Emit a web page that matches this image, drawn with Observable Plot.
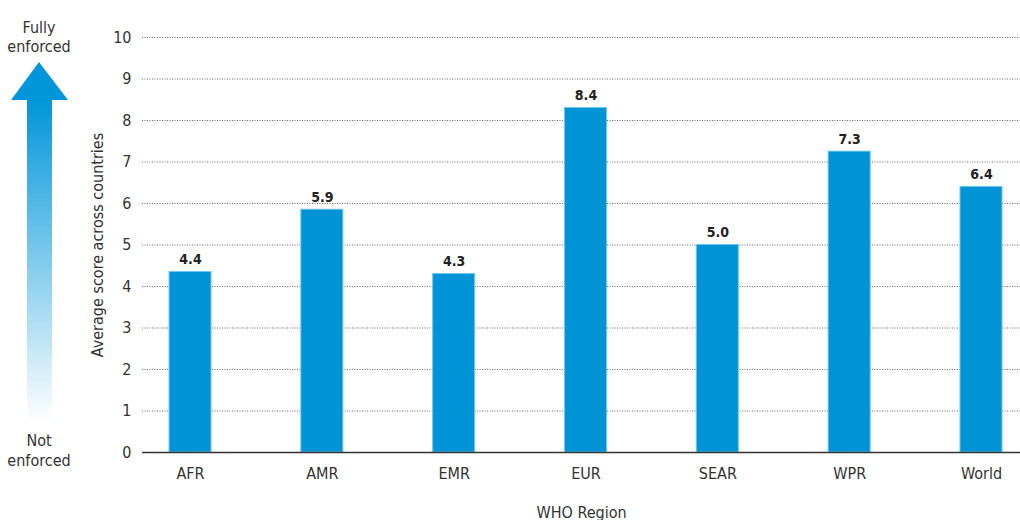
<!DOCTYPE html>
<html><head><meta charset="utf-8">
<script src="https://cdn.jsdelivr.net/npm/d3@7"></script>
<script src="https://cdn.jsdelivr.net/npm/@observablehq/plot@0.6"></script>
<style>
body{margin:0;background:#fff;font-family:"Liberation Sans Narrow","DejaVu Sans Condensed",sans-serif;}
#wrap{position:relative;width:1020px;height:520px;overflow:hidden;}
#legend{position:absolute;left:0;top:0;}
</style></head><body>
<div id="wrap"><div id="chart"></div>
<svg id="legend" width="80" height="480">
  <defs>
    <linearGradient id="g" x1="0" y1="0" x2="0" y2="1">
      <stop offset="0" stop-color="#0096d9"/>
      <stop offset="1" stop-color="#0096d9" stop-opacity="0"/>
    </linearGradient>
  </defs>
  <polygon points="39,62 68,100 11,100" fill="#0096d9"/>
  <rect x="27" y="99" width="25" height="323" fill="url(#g)"/>
  <g font-family="Liberation Sans Narrow, DejaVu Sans Condensed, sans-serif" font-size="16" fill="#333" text-anchor="middle">
    <text x="39" y="33">Fully</text>
    <text x="39" y="52">enforced</text>
    <text x="39" y="446">Not</text>
    <text x="39" y="466">enforced</text>
  </g>
</svg>
</div>
<script>
const regions = ["AFR","AMR","EMR","EUR","SEAR","WPR","World"];
const scores = [4.35,5.85,4.3,8.3,5.0,7.25,6.4];
const labels = ["4.4","5.9","4.3","8.4","5.0","7.3","6.4"];
const yTicks = [0,1,2,3,4,5,6,7,8,9,10];
const data = regions.map((r,i)=>({region:r, score:scores[i], label:labels[i]}));
const font = "Liberation Sans Narrow, DejaVu Sans Condensed, sans-serif";
const chart = Plot.plot({
  width:1020, height:520, marginLeft:142, marginRight:0, marginTop:37, marginBottom:68,
  style:{fontFamily:font, fontSize:"16px", color:"#333", background:"white", overflow:"visible"},
  x:{domain:regions, round:false, paddingInner:0.6814, paddingOuter:0.1707, align:0.6, label:"WHO Region", labelAnchor:"center", labelOffset:65, tickSize:0, tickPadding:15},
  y:{domain:[0,10], ticks:yTicks, tickSize:0, tickPadding:11, label:"Average score across countries", labelAnchor:"center", labelArrow:"none", labelOffset:51},
  marks:[
    Plot.ruleY(yTicks.filter(d=>d>0), {stroke:"#666", strokeDasharray:"1,1.5", strokeWidth:1}),
    Plot.barY(data,{x:"region", y:"score", fill:"#0094d7", stroke:"#6cc6ef", strokeWidth:1}),
    Plot.ruleY([0],{stroke:"#333", strokeWidth:1.5}),
    Plot.text(data,{x:"region", y:"score", text:"label", dy:-8, lineAnchor:"bottom", fontWeight:"bold", fontSize:14, fill:"#222"})
  ]
});
document.getElementById("chart").appendChild(chart);
</script>
</body></html>
